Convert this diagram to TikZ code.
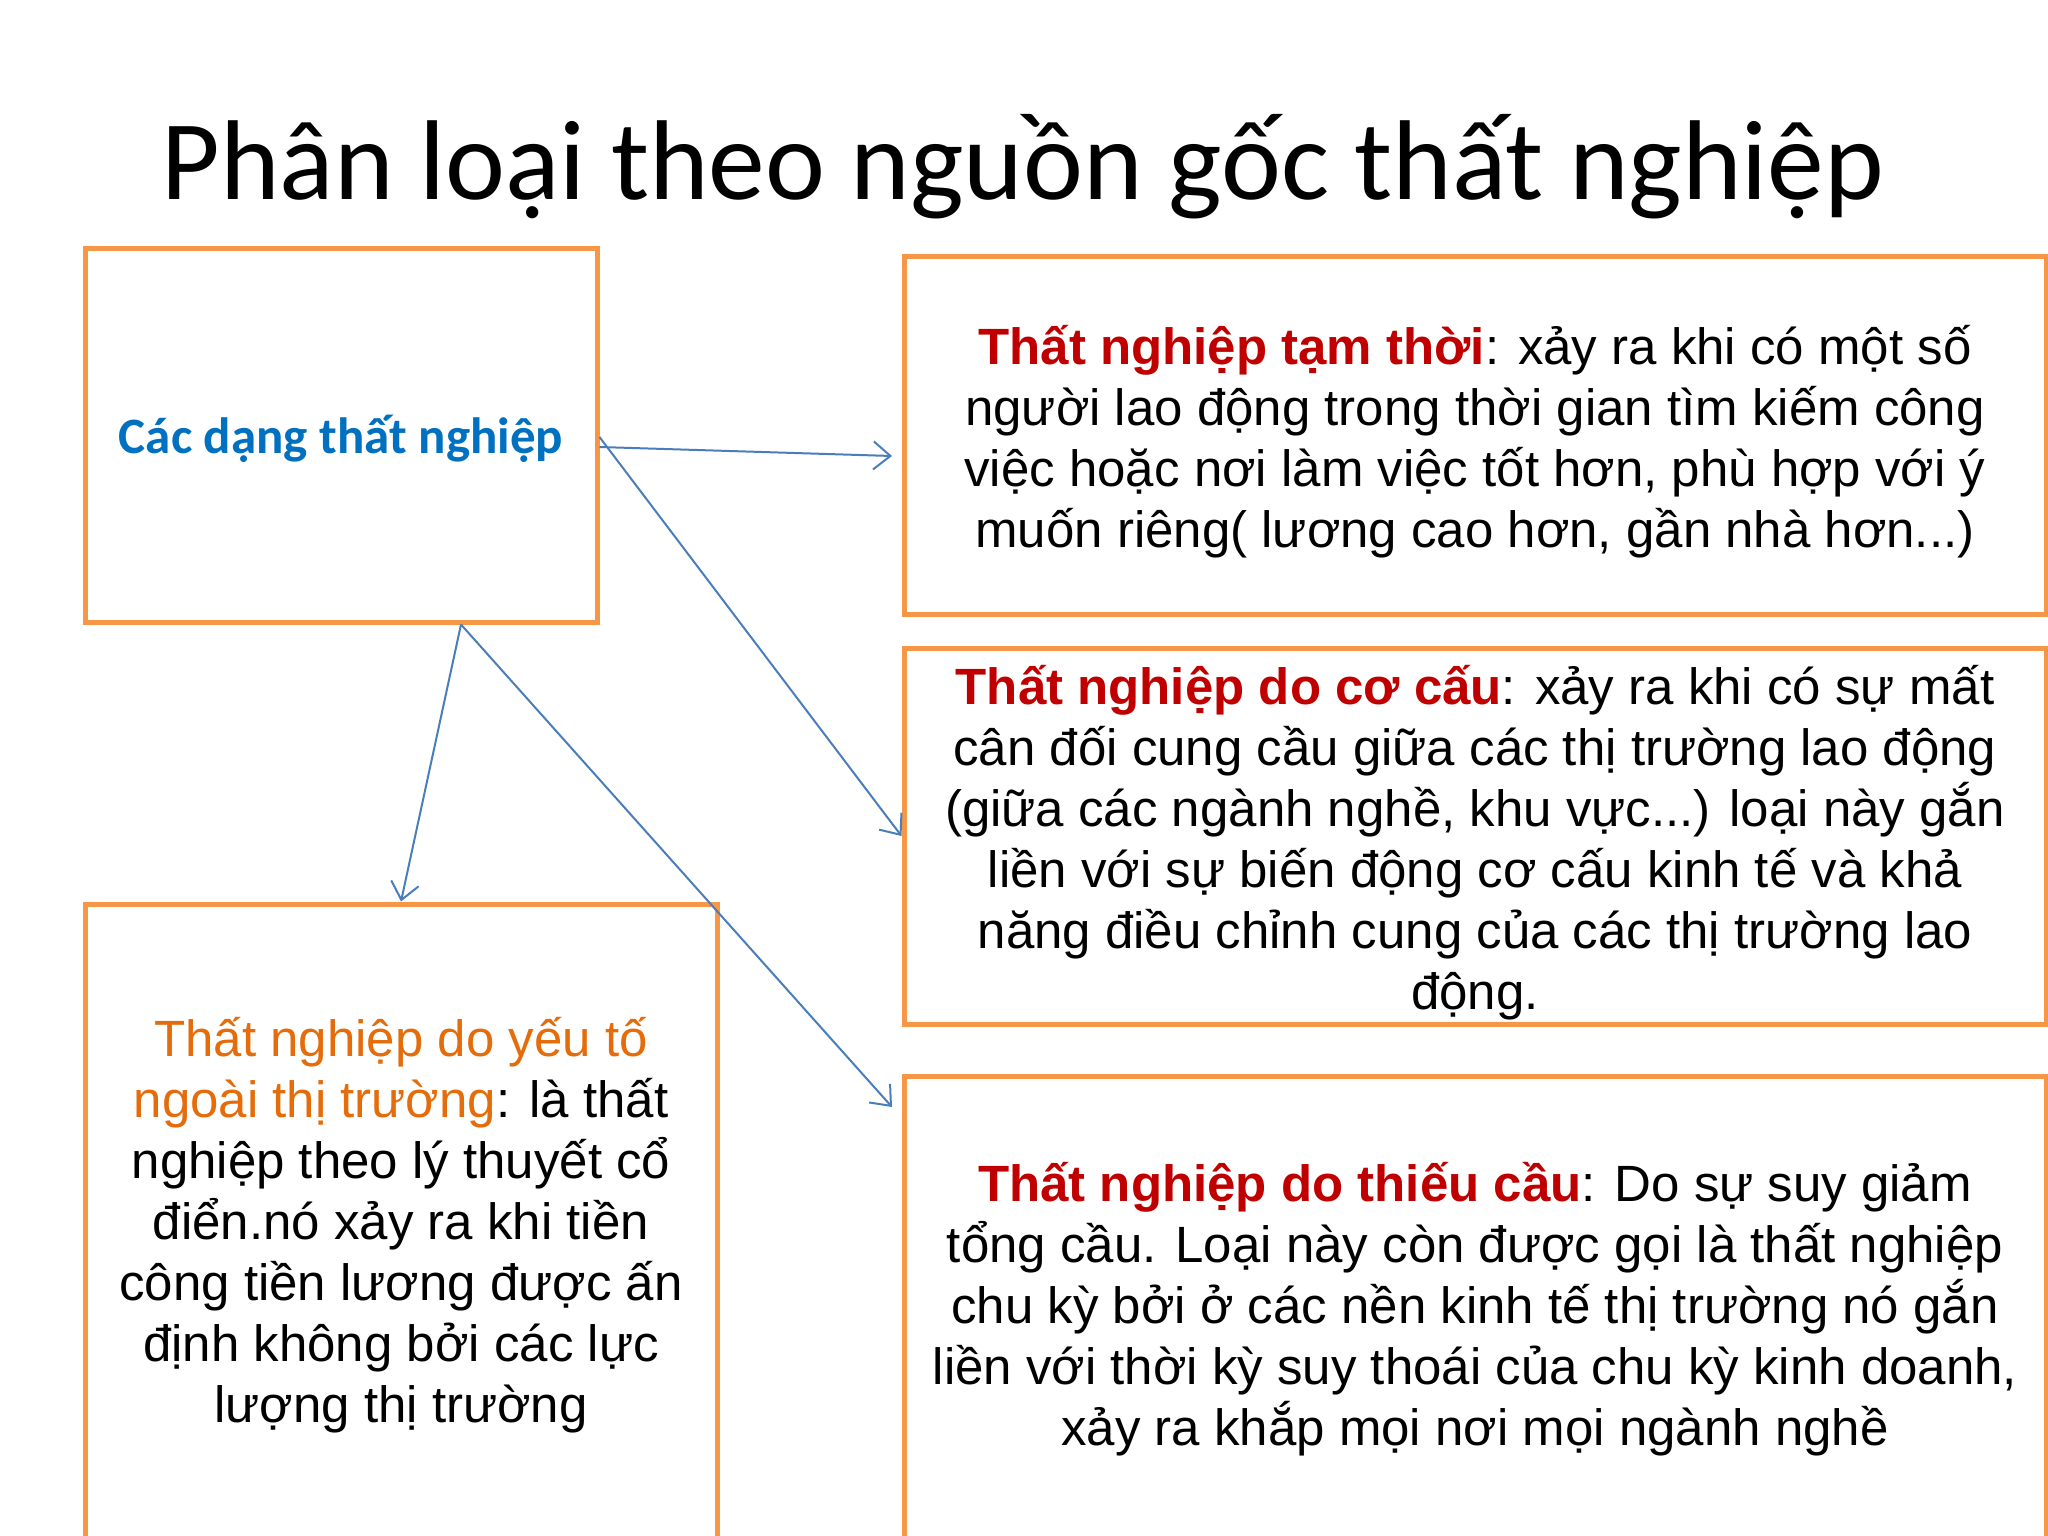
\documentclass[tikz,border=0pt]{standalone}
\usepackage{fontspec}
\setmainfont{Liberation Sans}
\newfontfamily\calibri{Carlito}
\usetikzlibrary{arrows.meta}
\definecolor{boxorange}{HTML}{F79646}
\definecolor{arrowblue}{HTML}{4A7EBB}
\definecolor{textblue}{HTML}{0070C0}
\definecolor{darkred}{HTML}{C00000}
\definecolor{textorange}{HTML}{E46C0A}
\newcommand{\lift}[1]{\rule{0pt}{#1pt}}
\begin{document}
\begin{tikzpicture}[x=1pt,y=-1pt,
  frame/.style={draw=boxorange, line width=5pt, fill=white, inner sep=0pt, align=center,
    font=\fontsize{51}{61}\selectfont},
  link/.style={draw=arrowblue, line width=2pt,
    -{Straight Barb[length=17pt,width=28pt,line width=2pt]}},
  titletext/.style={font=\calibri\fontsize{113.5}{136}\selectfont, anchor=base, inner sep=0pt}]
\useasboundingbox[fill=white] (0,0) rectangle (2048,1536);

\node[titletext] (T) at (1023,199) {Phân loại theo nguồn gốc thất nghiệp};

\node[frame, minimum width=512pt, minimum height=374pt] (A) at (341,435)
  {\calibri\bfseries\fontsize{51}{61}\selectfont\color{textblue}\lift{46}Các dạng thất nghiệp};

\node[frame, minimum width=1142pt, minimum height=358pt] (B) at (1475,435)
  {\lift{52}\textcolor{darkred}{\bfseries Thất nghiệp tạm thời}: xảy ra khi có một số\\
   người lao động trong thời gian tìm kiếm công\\
   việc hoặc nơi làm việc tốt hơn, phù hợp với ý\\
   muốn riêng( lương cao hơn, gần nhà hơn...)};

\node[frame, minimum width=1142pt, minimum height=376pt] (C) at (1475,836)
  {\lift{52}\textcolor{darkred}{\bfseries Thất nghiệp do cơ cấu}: xảy ra khi có sự mất\\
   cân đối cung cầu giữa các thị trường lao động\\
   (giữa các ngành nghề, khu vực...) loại này gắn\\
   liền với sự biến động cơ cấu kinh tế và khả\\
   năng điều chỉnh cung của các thị trường lao\\
   động.};

\node[frame, minimum width=1142pt, minimum height=462pt] (D) at (1475,1307)
  {\lift{44}\textcolor{darkred}{\bfseries Thất nghiệp do thiếu cầu}: Do sự suy giảm\\
   tổng cầu. Loại này còn được gọi là thất nghiệp\\
   chu kỳ bởi ở các nền kinh tế thị trường nó gắn\\
   liền với thời kỳ suy thoái của chu kỳ kinh doanh,\\
   xảy ra khắp mọi nơi mọi ngành nghề};

\node[frame, minimum width=632pt, minimum height=634pt] (E) at (401,1221)
  {\lift{47}\textcolor{textorange}{Thất nghiệp do yếu tố}\\
   \textcolor{textorange}{ngoài thị trường}: là thất\\
   nghiệp theo lý thuyết cổ\\
   điển.nó xảy ra khi tiền\\
   công tiền lương được ấn\\
   định không bởi các lực\\
   lượng thị trường};

\coordinate (b1) at (892,456);
\coordinate (d1) at (892,1107);
\draw[link] ([yshift=-12pt]A.east) -- (b1);
\draw[link] ([yshift=-2pt]A.east) -- (C.west);
\draw[link] ([xshift=120pt]A.south) -- (E.north);
\draw[link] ([xshift=120pt]A.south) -- (d1);
\end{tikzpicture}
\end{document}
